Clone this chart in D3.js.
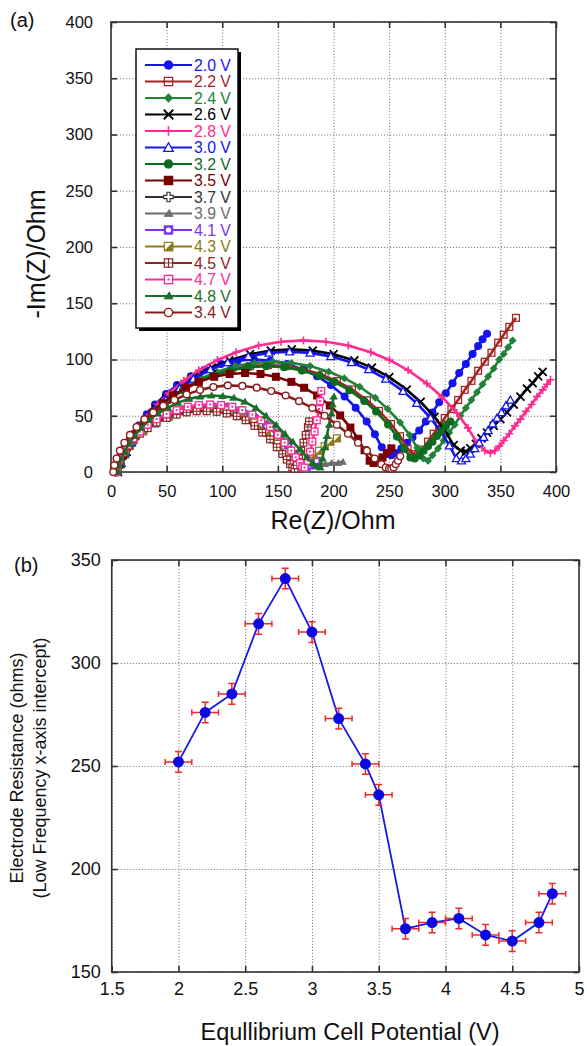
<!DOCTYPE html>
<html>
<head>
<meta charset="utf-8">
<script src="https://cdn.jsdelivr.net/npm/d3@7"></script>
<style>
  html, body { margin: 0; padding: 0; background: #fff; }
  svg text { font-family: "Liberation Sans", Arial, Helvetica, sans-serif; }
</style>
</head>
<body>
<svg id="fig" width="587" height="1046"></svg>
<script>
// ---------- (a) Nyquist spectra: [Re(Z), -Im(Z)] in ohm ----------
const z20 = [[5,0],[7.5,7.3],[11.2,16.5],[14.9,24.4],[19.8,33.5],[24.8,41.3],[32.2,51.4],[39.6,59.9],[49.5,69.4],[59.3,77.3],[71.7,85.1],[84,91],[98.9,96.1],[113.7,99],[128.5,100],[143.3,99],[158.1,96.1],[173,91],[185.3,85.1],[197.7,77.3],[210,67.2],[219.9,57.2],[229.8,44.9],[237.2,33.5],[243.4,21.9],[248.3,16],[252,15],
  [256,17],[261,21],[266,26],[271,31],[277,37],[283,45],[289,53],[295,62],[301,70],[307,79],[313,88],[319,96],[325,105],[330,112],[334,118],[338,123]];
const z22 = [[6,0],[8.7,6.9],[12.8,15.7],[16.8,23.2],[22.2,31.8],[27.6,39.2],[35.7,48.8],[43.8,56.9],[54.6,65.9],[65.4,73.4],[78.9,80.8],[92.4,86.5],[108.6,91.3],[124.8,94.1],[141,95],[157.2,94.1],[173.4,91.3],[189.6,86.5],[203.1,80.8],[216.6,73.4],[230.1,63.8],[240.9,54.3],[251.7,42.7],[259.8,31.8],[266.6,20.8],[272,16],[276,15],
  [280,20],[285,27],[290,34],[295,41],[300,48],[306,56],[312,64],[318,73],[324,81],[330,90],[336,98],[342,106],[348,115],[353,122],[358,129],[364,137]];
const z24 = [[6,0],[8.8,7.2],[13,16.2],[17.2,23.9],[22.7,32.8],[28.3,40.5],[36.7,50.4],[45.1,58.7],[56.2,68],[67.4,75.8],[81.3,83.4],[95.3,89.2],[112,94.2],[128.8,97],[145.5,98],[162.2,97],[179,94.2],[195.7,89.2],[209.7,83.4],[223.6,75.8],[237.6,65.9],[248.7,56.1],[259.9,44],[268.3,32.8],[275.2,21.5],[280.8,12],[285,10],
  [289,15],[294,21],[299,28],[304,35],[309,42],[314,50],[319,57],[324,64],[329,71],[334,78],[339,85],[344,92],[349,100],[353,105],[357,111],[361,117]];
const z26 = [[6,0],[9.1,8],[13.8,18],[18.5,26.6],[24.8,36.5],[31,45],[40.4,56],[49.8,65.3],[62.3,75.6],[74.9,84.3],[90.5,92.8],[106.2,99.2],[124.9,104.7],[143.7,107.9],[162.5,109],[181.3,107.9],[200.1,104.7],[218.8,99.2],[234.5,92.8],[250.1,84.3],[265.8,73.2],[278.3,62.3],[290.8,48.9],[300.2,36.5],[308,23.9],[314.3,19],[319,18],
  [323,21],[328,25],[333,30],[338,35],[344,41],[350,47],[356,53],[362,60],[368,67],[374,74],[379,79],[384,85],[388,89]];
const z28 = [[5,0],[8.4,8.5],[13.4,19.3],[18.4,28.5],[25.2,39.2],[31.9,48.3],[42,60.1],[52,70.1],[65.5,81.2],[78.9,90.4],[95.7,99.6],[112.5,106.5],[132.7,112.4],[152.8,115.8],[173,117],[193.2,115.8],[213.3,112.4],[233.5,106.5],[250.3,99.6],[267.1,90.4],[283.9,78.6],[297.3,66.9],[310.8,52.5],[320.8,39.2],[329.2,25.6],[336,19],[341,17],
  [345,19],[349,23],[353,28],[358,34],[363,41],[368,47],[373,54],[378,60],[383,67],[388,73],[392,78],[395,82]];
const z30 = [[6,0],[9.1,7.8],[13.7,17.7],[18.4,26.1],[24.5,35.8],[30.7,44.2],[40,55],[49.3,64.1],[61.6,74.3],[74,82.7],[89.4,91.1],[104.9,97.4],[123.4,102.8],[142,105.9],[160.5,107],[179,105.9],[197.6,102.8],[216.1,97.4],[231.6,91.1],[247,82.7],[262.5,71.9],[274.8,61.2],[287.2,48],[296.5,35.8],[304.2,23.4],[310.4,12],[315,10],
  [319,12],[323,16],[327,21],[331,26],[335,31],[339,37],[343,43],[347,48],[351,53],[355,59],[359,64]];
const z32 = [[6,0],[8.7,6.9],[12.7,15.5],[16.7,22.9],[22,31.5],[27.4,38.8],[35.4,48.3],[43.4,56.3],[54.1,65.2],[64.7,72.7],[78.1,80],[91.4,85.5],[107.5,90.3],[123.5,93.1],[139.5,94],[155.5,93.1],[171.5,90.3],[187.6,85.5],[200.9,80],[214.3,72.7],[227.6,63.2],[238.3,53.8],[249,42.2],[257,31.5],[263.7,20.6],[269,13],[273,12],
  [277,15],[281,19],[285,23],[289,27],[293,32],[297,36],[301,41],[305,45]];
const z35 = [[5,0],[7.3,6.4],[10.8,14.5],[14.2,21.5],[18.9,29.5],[23.5,36.3],[30.4,45.2],[37.3,52.7],[46.6,61.1],[55.8,68],[67.4,74.9],[78.9,80.1],[92.8,84.6],[106.6,87.1],[120.5,88],[134.4,87.1],[148.2,84.6],[162.1,80.1],[173.6,74.9],[185.2,68],[196.7,59.1],[206,50.3],[215.2,39.5],[222.1,29.5],[227.9,19.3],[232.5,10],[236,8],
  [240,10],[244,13],[248,17],[252,21]];
const z37 = [[5,0],[8,11],[13,20],[20,29],[29,37],[40,44],[52,50],[65,55],[78,57.5],[91,58],[104,57],[117,54],[129,48],[140,41],[150,33],[158,24],[164,15],[168,8],[171,4],[174,6],[177,9],[180,12]];
const z39 = [[5,0],[8,11],[13,21],[20,30],[29,38],[40,45],[52,51],[65,56],[78,59],[91,60],[104,59],[117,56],[129,51],[140,44],[150,36],[159,27],[166,17],[171,9],[174,4],[180,5],[186,6],[192,7],[198,8],[204,8],[208,9]];
const z41 = [[5,0],[8,10],[13,19],[20,28],[29,36],[40,43],[52,49],[65,54],[78,57],[91,58],[104,57],[117,54],[129,48],[140,41],[150,33],[159,24],[166,15],[172,8],[176,4],[179,6],[182,8],[185,10]];
const z43 = [[5,0],[8,11],[13,20],[20,29],[29,37],[40,44],[52,50],[65,54.5],[78,57],[91,57],[104,55],[117,51],[129,44],[140,35],[150,25],[158,15],[164,8],[168,4],[172,7],[177,11],[182,15],[187,19],[192,23],[197,27],[203,30]];
const z45 = [[5,0],[6,6],[8,11],[11,17],[15,23],[20,29],[26,34],[33,39],[41,44],[50,48],[59,51],[68,53],[77,54],[86,54],[95,53.5],[104,52],[113,49.5],[121,46],[129,41],[136,35],[143,29],[149,22],[154,16],[158,11],[161,7],[163,4],[165,3],
  [167,6],[169,12],[171,19],[173,26],[175,33],[177,40],[178,45]];
const z47 = [[5,0],[6,6],[8,12],[11,18],[15,24],[20,30],[26,36],[33,42],[41,47],[50,51.5],[59,55],[69,58],[79,59.5],[89,60],[99,59.5],[109,58],[118,55],[127,51],[135,46],[143,40],[150,33],[156,26],[162,19],[166,13],[170,8],[172,5],[174,4],
  [177,10],[179,18],[181,27],[183,36],[185,46],[187,56],[188,63],[189,72]];
const z48 = [[6,0],[7,6],[9,12],[12,18],[16,25],[21,32],[27,39],[34,46],[42,52],[51,57],[60,61.5],[70,65],[80,67],[90,68],[100,67.5],[110,66],[120,62.5],[130,57],[139,50],[148,42],[156,34],[163,27],[170,20],[176,13],[181,8],[185,5],[188,4],
  [190,12],[192,22],[194,32],[196,42],[198,52],[199,60],[200,67]];
const z34 = [[2,0],[3,6],[5,12],[8,19],[12,26],[17,33],[23,40],[30,47],[38,53],[47,59],[57,64],[68,69],[80,73],[92,75.5],[105,77],[118,76.5],[131,75],[144,72],[157,68],[169,63],[181,57],[192,50],[203,42],[213,34],[222,26],[230,19],[237,12],[243,7],[247,4],[250,3],[252,3],
  [254,4],[256,7],[258,10],[260,14]];

const spectraLabels = ["2.0 V","2.2 V","2.4 V","2.6 V","2.8 V","3.0 V","3.2 V","3.5 V","3.7 V","3.9 V","4.1 V","4.3 V","4.5 V","4.7 V","4.8 V","3.4 V"];
const spectra = [z20, z22, z24, z26, z28, z30, z32, z35, z37, z39, z41, z43, z45, z47, z48, z34];
const spectraColors = ["#1414f0","#a32626","#22823a","#000000","#ff2a8e","#1414f0","#0d6b1d","#7a0000","#333333","#6e6e6e","#7b35f0","#8c7a1a","#8b2424","#ff2f98","#1a6e2a","#8b1c1c"];
const spectraMarkers = ["circle","osquare","diamond","times","plus","otriangle","circle","square","ocross","rtriangle","csquare","hsquare","psquare","dsquare","rtriangle","ocircle"];

const reTicks = [0,50,100,150,200,250,300,350,400];
const imTicks = [0,50,100,150,200,250,300,350,400];

// ---------- (b) low-frequency intercept vs. cell potential ----------
const potential = [2.0,2.2,2.4,2.6,2.8,3.0,3.2,3.4,3.5,3.7,3.9,4.1,4.3,4.5,4.7,4.8];
const resistance = [252,276,285,319,341,315,273,251,236,171,174,176,168,165,174,188];
const potentialErr = [0.1,0.1,0.1,0.1,0.1,0.1,0.1,0.1,0.1,0.1,0.1,0.1,0.1,0.1,0.1,0.1];
const resistanceErr = [5,5,5,5,5,5,5,5,5,5,5,5,5,5,5,5];
const potTicks = [1.5,2,2.5,3,3.5,4,4.5,5];
const resTicks = [150,200,250,300,350];

const svg = d3.select("#fig");
const gridColor = "#8f8080";
const frameColor = "#333";

// Draw a marker glyph centred on the origin of group g
function marker(g, type, color, s) {
  const h = s / 2;
  switch (type) {
    case "circle":
      g.append("circle").attr("r", h).attr("fill", color); break;
    case "ocircle":
      g.append("circle").attr("r", h - 0.6).attr("fill", "#fff").attr("stroke", color).attr("stroke-width", 1.4); break;
    case "square":
      g.append("rect").attr("x", -h).attr("y", -h).attr("width", s).attr("height", s).attr("fill", color); break;
    case "osquare":
      g.append("rect").attr("x", -h + 0.6).attr("y", -h + 0.6).attr("width", s - 1.2).attr("height", s - 1.2)
        .attr("fill", "none").attr("stroke", color).attr("stroke-width", 1.3); break;
    case "diamond":
      g.append("path").attr("d", `M0,${-h}L${h},0L0,${h}L${-h},0Z`).attr("fill", color); break;
    case "times":
      g.append("path").attr("d", `M${-h},${-h}L${h},${h}M${-h},${h}L${h},${-h}`).attr("stroke", color).attr("stroke-width", 1.8); break;
    case "plus":
      g.append("path").attr("d", `M${-h},0L${h},0M0,${-h}L0,${h}`).attr("stroke", color).attr("stroke-width", 1.6); break;
    case "otriangle":
      g.append("path").attr("d", `M0,${-h}L${h},${h * 0.8}L${-h},${h * 0.8}Z`).attr("fill", "#fff").attr("stroke", color).attr("stroke-width", 1.3); break;
    case "ocross": {
      const a = h / 3;
      g.append("path").attr("d", `M${-a},${-h}H${a}V${-a}H${h}V${a}H${a}V${h}H${-a}V${a}H${-h}V${-a}H${-a}Z`)
        .attr("fill", "#fff").attr("stroke", color).attr("stroke-width", 1.2); break;
    }
    case "rtriangle":
      g.append("path").attr("d", `M${-h},${h * 0.6}L${h},${h * 0.6}L${h * 0.2},${-h}Z`).attr("fill", color);
      g.append("path").attr("d", `M${-h},${h * 0.6}L${h},${h * 0.6}`).attr("stroke", color).attr("stroke-width", 1); break;
    case "csquare":
      g.append("rect").attr("x", -h).attr("y", -h).attr("width", s).attr("height", s).attr("fill", color);
      g.append("circle").attr("r", h * 0.55).attr("fill", "#fff"); break;
    case "hsquare":
      g.append("rect").attr("x", -h + 0.6).attr("y", -h + 0.6).attr("width", s - 1.2).attr("height", s - 1.2)
        .attr("fill", "#fff").attr("stroke", color).attr("stroke-width", 1.2);
      g.append("path").attr("d", `M${h},${-h}L${h},${h}L${-h},${h}Z`).attr("fill", color); break;
    case "psquare":
      g.append("rect").attr("x", -h + 0.6).attr("y", -h + 0.6).attr("width", s - 1.2).attr("height", s - 1.2)
        .attr("fill", "#fff").attr("stroke", color).attr("stroke-width", 1.2);
      g.append("path").attr("d", `M${-h},0L${h},0M0,${-h}L0,${h}`).attr("stroke", color).attr("stroke-width", 1); break;
    case "dsquare":
      g.append("rect").attr("x", -h + 0.6).attr("y", -h + 0.6).attr("width", s - 1.2).attr("height", s - 1.2)
        .attr("fill", "#fff").attr("stroke", color).attr("stroke-width", 1.4);
      g.append("rect").attr("x", -1).attr("y", -1).attr("width", 2).attr("height", 2).attr("fill", color); break;
  }
}

// Frame, dotted grid and inward ticks on all four sides
function panel(x, y, xTicks, yTicks, fs, xPad, yPad, xFmt, yFmt) {
  const [L, R] = x.range(), [B, T] = y.range();
  const g = svg.append("g");
  const gx = g.append("g").attr("transform", `translate(0,${B})`)
    .call(d3.axisBottom(x).tickValues(xTicks).tickSize(-(B - T)).tickFormat(""));
  const gy = g.append("g").attr("transform", `translate(${L},0)`)
    .call(d3.axisLeft(y).tickValues(yTicks).tickSize(-(R - L)).tickFormat(""));
  [gx, gy].forEach(a => {
    a.select(".domain").remove();
    a.selectAll("line").attr("stroke", gridColor).attr("stroke-width", 1).attr("stroke-dasharray", "1.2,1.8");
  });
  const styleAxis = a => {
    a.select(".domain").remove();
    a.selectAll("line").attr("stroke", frameColor).attr("stroke-width", 1.6);
    a.selectAll("text").attr("font-family", "Liberation Sans, Arial, sans-serif").attr("font-size", fs).attr("fill", "#111");
  };
  g.append("g").attr("transform", `translate(0,${B})`)
    .call(d3.axisBottom(x).tickValues(xTicks).tickSizeInner(-6).tickSizeOuter(0).tickPadding(xPad).tickFormat(xFmt)).call(styleAxis);
  g.append("g").attr("transform", `translate(${L},0)`)
    .call(d3.axisLeft(y).tickValues(yTicks).tickSizeInner(-6).tickSizeOuter(0).tickPadding(yPad).tickFormat(yFmt)).call(styleAxis);
  g.append("g").attr("transform", `translate(0,${T})`)
    .call(d3.axisTop(x).tickValues(xTicks).tickSizeInner(-6).tickSizeOuter(0).tickFormat("")).call(styleAxis);
  g.append("g").attr("transform", `translate(${R},0)`)
    .call(d3.axisRight(y).tickValues(yTicks).tickSizeInner(-6).tickSizeOuter(0).tickFormat("")).call(styleAxis);
  g.append("rect").attr("x", L).attr("y", T).attr("width", R - L).attr("height", B - T)
    .attr("fill", "none").attr("stroke", frameColor).attr("stroke-width", 1.6);
  return g;
}

// ================= panel (a) =================
const xA = d3.scaleLinear().domain([0, 400]).range([111, 556]);
const yA = d3.scaleLinear().domain([0, 400]).range([472, 22]);
panel(xA, yA, reTicks, imTicks, 16.5, 13, 18, d3.format("d"), d3.format("d"));

const lineA = d3.line().x(d => xA(d[0])).y(d => yA(d[1]));
const dataA = svg.append("g");
spectra.forEach((pts, i) => {
  const col = spectraColors[i];
  const s = dataA.append("g");
  s.append("path").attr("d", lineA(pts)).attr("fill", "none").attr("stroke", col)
    .attr("stroke-width", 2.6).attr("stroke-linejoin", "round");
  s.selectAll(null).data(pts).join("g")
    .attr("transform", d => `translate(${xA(d[0])},${yA(d[1])})`)
    .each(function () { marker(d3.select(this), spectraMarkers[i], col, 8); });
});

// legend
const leg = svg.append("g");
leg.append("rect").attr("x", 139).attr("y", 52).attr("width", 102).attr("height", 279).attr("fill", "#000");
leg.append("rect").attr("x", 136).attr("y", 49).attr("width", 102).attr("height", 279)
  .attr("fill", "#fff").attr("stroke", "#000").attr("stroke-width", 1.4);
spectraLabels.forEach((lab, i) => {
  const yy = 65 + i * 16.5;
  const col = spectraColors[i];
  leg.append("line").attr("x1", 145).attr("x2", 192).attr("y1", yy).attr("y2", yy)
    .attr("stroke", col).attr("stroke-width", 1.8);
  marker(leg.append("g").attr("transform", `translate(168.5,${yy})`), spectraMarkers[i], col, 9.5);
  leg.append("text").attr("x", 194).attr("y", yy + 5.5).attr("font-size", 15.8).attr("fill", col).text(lab);
});

svg.append("text").attr("x", 10).attr("y", 27).attr("font-size", 20).attr("fill", "#111").text("(a)");
svg.append("text").attr("x", 333).attr("y", 529).attr("text-anchor", "middle").attr("font-size", 25).attr("fill", "#111").text("Re(Z)/Ohm");
svg.append("text").attr("transform", "translate(45,254) rotate(-90)").attr("text-anchor", "middle")
  .attr("font-size", 25).attr("fill", "#111").text("-Im(Z)/Ohm");

// ================= panel (b) =================
const xB = d3.scaleLinear().domain([1.5, 5]).range([111.7, 579]);
const yB = d3.scaleLinear().domain([150, 350]).range([972, 560]);
panel(xB, yB, potTicks, resTicks, 18, 10, 11, d3.format("~g"), d3.format("d"));

const pts = potential.map((v, i) => ({ v, r: resistance[i], ev: potentialErr[i], er: resistanceErr[i] }));
const gB = svg.append("g");
gB.append("path").attr("d", d3.line().x(d => xB(d.v)).y(d => yB(d.r))(pts))
  .attr("fill", "none").attr("stroke", "#1a1ae6").attr("stroke-width", 1.8);
const errCol = "#ec2a2a";
const eb = gB.selectAll(null).data(pts).join("g");
eb.append("path").attr("d", d => {
  const xl = xB(d.v - d.ev), xr = xB(d.v + d.ev), yc = yB(d.r);
  return `M${xl},${yc}H${xr}M${xl},${yc - 3}V${yc + 3}M${xr},${yc - 3}V${yc + 3}`;
}).attr("stroke", errCol).attr("stroke-width", 1.5).attr("fill", "none");
eb.append("path").attr("d", d => {
  const yt = yB(d.r + d.er), yb = yB(d.r - d.er), xc = xB(d.v);
  return `M${xc},${yt}V${yb}M${xc - 3.5},${yt}H${xc + 3.5}M${xc - 3.5},${yb}H${xc + 3.5}`;
}).attr("stroke", errCol).attr("stroke-width", 1.5).attr("fill", "none");
gB.selectAll(null).data(pts).join("circle")
  .attr("cx", d => xB(d.v)).attr("cy", d => yB(d.r)).attr("r", 5.5).attr("fill", "#0a0ae0");

svg.append("text").attr("x", 14).attr("y", 572).attr("font-size", 20).attr("fill", "#111").text("(b)");
svg.append("text").attr("transform", "translate(23,768) rotate(-90)").attr("text-anchor", "middle")
  .attr("font-size", 18).attr("fill", "#111").text("Electrode Resistance (ohms)");
svg.append("text").attr("transform", "translate(46,768) rotate(-90)").attr("text-anchor", "middle")
  .attr("font-size", 18).attr("fill", "#111").text("(Low Frequency x-axis intercept)");
svg.append("text").attr("x", 350).attr("y", 1040).attr("text-anchor", "middle")
  .attr("font-size", 23.5).attr("fill", "#111").text("Equllibrium Cell Potential (V)");
</script>
</body>
</html>
